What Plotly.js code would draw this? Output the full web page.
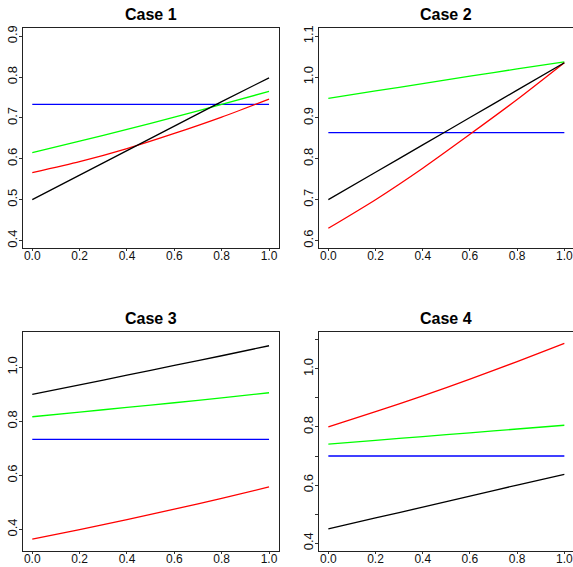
<!DOCTYPE html>
<html>
<head>
<meta charset="utf-8">
<script src="https://cdn.plot.ly/plotly-3.0.1.min.js"></script>
<style>html,body{margin:0;padding:0;background:#fff;}#chart{width:573px;height:567px;}</style>
</head>
<body>
<div id="chart"></div>
<script>
// ---- data ----
const xs = [0, 0.2, 0.4, 0.6, 0.8, 1.0];
const titles = ["Case 1", "Case 2", "Case 3", "Case 4"];

// Case 1
const c1_black = [0.500, 0.560, 0.620, 0.680, 0.740, 0.798];
const c1_red   = [0.566, 0.593, 0.625, 0.662, 0.702, 0.746];
const c1_green = [0.615, 0.643, 0.672, 0.702, 0.733, 0.765];
const c1_blue  = [0.733, 0.733, 0.733, 0.733, 0.733, 0.733];
// Case 2
const c2_black = [0.700, 0.767, 0.834, 0.901, 0.968, 1.035];
const c2_red   = [0.630, 0.700, 0.777, 0.860, 0.945, 1.035];
const c2_green = [0.948, 0.966, 0.984, 1.002, 1.020, 1.037];
const c2_blue  = [0.864, 0.864, 0.864, 0.864, 0.864, 0.864];
// Case 3
const c3_black = [0.900, 0.935, 0.971, 1.007, 1.043, 1.080];
const c3_red   = [0.364, 0.399, 0.436, 0.475, 0.515, 0.557];
const c3_green = [0.817, 0.834, 0.852, 0.869, 0.887, 0.906];
const c3_blue  = [0.733, 0.733, 0.733, 0.733, 0.733, 0.733];
// Case 4
const c4_black = [0.449, 0.487, 0.524, 0.562, 0.600, 0.637];
const c4_red   = [0.800, 0.853, 0.907, 0.965, 1.025, 1.088];
const c4_green = [0.741, 0.754, 0.767, 0.780, 0.793, 0.806];
const c4_blue  = [0.700, 0.700, 0.700, 0.700, 0.700, 0.700];

// tick labels
const xTickVals = [0, 0.2, 0.4, 0.6, 0.8, 1.0];
const xTickText = ["0.0", "0.2", "0.4", "0.6", "0.8", "1.0"];
const y1TickVals = [0.4, 0.5, 0.6, 0.7, 0.8, 0.9];
const y1TickText = ["0.4", "0.5", "0.6", "0.7", "0.8", "0.9"];
const y2TickVals = [0.6, 0.7, 0.8, 0.9, 1.0, 1.1];
const y2TickText = ["0.6", "0.7", "0.8", "0.9", "1.0", "1.1"];
const y3TickVals = [0.4, 0.6, 0.8, 1.0];
const y3TickText = ["0.4", "0.6", "0.8", "1.0"];
const y4TickVals = [0.4, 0.5, 0.6, 0.7, 0.8, 0.9, 1.0, 1.1];
const y4TickText = ["0.4", "", "0.6", "", "0.8", "", "1.0", ""];

// ---- build ----
const panels = [
  {black: c1_black, red: c1_red, green: c1_green, blue: c1_blue},
  {black: c2_black, red: c2_red, green: c2_green, blue: c2_blue},
  {black: c3_black, red: c3_red, green: c3_green, blue: c3_blue},
  {black: c4_black, red: c4_red, green: c4_green, blue: c4_blue}
];
const colors = {black: "#000000", red: "#FF0000", green: "#00FF00", blue: "#0000FF"};
const order = ["blue", "green", "red", "black"];

const traces = [];
panels.forEach((p, i) => {
  const n = i === 0 ? "" : String(i + 1);
  order.forEach(k => {
    traces.push({
      x: xs, y: p[k], type: "scatter", mode: "lines",
      line: {color: colors[k], width: 1.3, shape: "spline", smoothing: 0.6},
      xaxis: "x" + n, yaxis: "y" + n, showlegend: false, hoverinfo: "skip"
    });
  });
});

const W = 573, H = 567;
const regular = "Liberation Sans, Arial, sans-serif";

function xax(domain, range, anchor) {
  return {
    domain: domain, range: range, anchor: anchor,
    tickmode: "array", tickvals: xTickVals, ticktext: xTickText,
    ticks: "outside", ticklen: 2, tickwidth: 1, tickcolor: "#333",
    ticklabelstandoff: -5, ticklabeloverflow: "allow",
    showline: true, linecolor: "#222", linewidth: 1, mirror: true,
    showgrid: false, zeroline: false,
    tickfont: {family: regular, size: 12, color: "#111"}
  };
}
function yax(domain, range, anchor, vals, text, mirrorOn) {
  return {
    domain: domain, range: range, anchor: anchor,
    tickmode: "array", tickvals: vals, ticktext: text, tickangle: -90,
    ticks: "outside", ticklen: 3, tickwidth: 1, tickcolor: "#333",
    ticklabelstandoff: -3,
    showline: true, linecolor: "#222", linewidth: 1, mirror: mirrorOn,
    showgrid: false, zeroline: false,
    tickfont: {family: regular, size: 13, color: "#111"}
  };
}

const dx1 = [22.8 / W, 278.5 / W];
const dx2 = [318.9 / W, 1];
const dyTop = [1 - 247.5 / H, 1 - 28 / H];
const dyBot = [1 - 551 / H, 1 - 331.7 / H];
const xr1 = [-0.04, 1.04];
const xr2 = [-0.04, -0.04 + (573 - 318.9) / 236];

const layout = {
  width: W, height: H,
  margin: {l: 0, r: 0, t: 0, b: 0},
  paper_bgcolor: "#fff", plot_bgcolor: "#fff",
  showlegend: false,
  xaxis: xax(dx1, xr1, "y"),
  yaxis: yax(dyTop, [0.383, 0.920], "x", y1TickVals, y1TickText, true),
  xaxis2: xax(dx2, xr2, "y2"),
  yaxis2: yax(dyTop, [0.583, 1.120], "x2", y2TickVals, y2TickText, false),
  xaxis3: xax(dx1, xr1, "y3"),
  yaxis3: yax(dyBot, [0.320, 1.132], "x3", y3TickVals, y3TickText, true),
  xaxis4: xax(dx2, xr2, "y4"),
  yaxis4: yax(dyBot, [0.373, 1.128], "x4", y4TickVals, y4TickText, false),
  annotations: [
    {text: "<b>" + titles[0] + "</b>", x: 150.6 / W, y: 1 - 14 / H},
    {text: "<b>" + titles[1] + "</b>", x: 445.5 / W, y: 1 - 14 / H},
    {text: "<b>" + titles[2] + "</b>", x: 150.6 / W, y: 1 - 318 / H},
    {text: "<b>" + titles[3] + "</b>", x: 445.5 / W, y: 1 - 318 / H}
  ].map(a => Object.assign(a, {
    xref: "paper", yref: "paper", xanchor: "center", yanchor: "middle",
    showarrow: false, font: {family: regular, size: 16, color: "#000"}
  }))
};

Plotly.newPlot("chart", traces, layout, {staticPlot: true, displayModeBar: false});
</script>
</body>
</html>
